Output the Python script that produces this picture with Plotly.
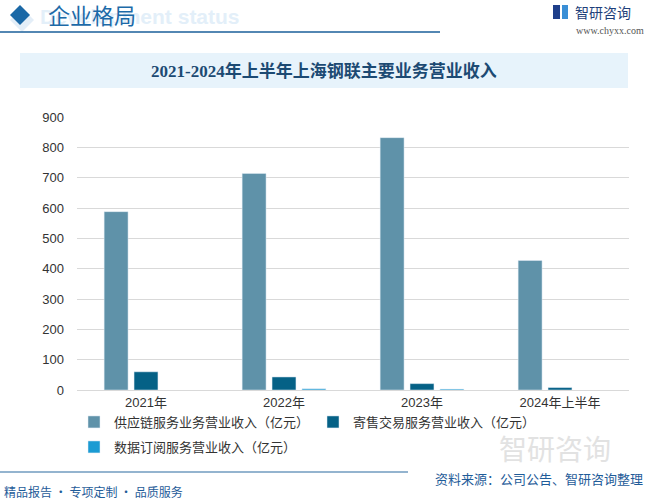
import plotly.graph_objects as go

categories = ["2021年", "2022年", "2023年", "2024年上半年"]
supply_chain = [588, 714, 832, 427]
consignment = [60, 43, 21, 8]
data_sub = [None, 4, 3, None]
series_names = ["供应链服务业务营业收入（亿元）", "寄售交易服务营业收入（亿元）", "数据订阅服务营业收入（亿元）"]
y_ticks = [0, 100, 200, 300, 400, 500, 600, 700, 800, 900]

W, H = 647, 499
L, R, T, B = 77, 18, 117, 109
PW, PH = W - L - R, H - T - B


def px(x):
    return (x - L) / PW


def py(y):
    return (H - B - y) / PH


CJK = "Noto Sans CJK SC"
fig = go.Figure()
fig.add_bar(x=categories, y=supply_chain, name=series_names[0], marker_color="#5f92a9", legend="legend")
fig.add_bar(x=categories, y=consignment, name=series_names[1], marker_color="#056186", legend="legend")
fig.add_bar(x=categories, y=data_sub, name=series_names[2], marker_color="#1b9bd3", legend="legend2")

shapes = []
annotations = []

# title box
shapes.append(dict(type="rect", xref="paper", yref="paper", x0=px(20), x1=px(628), y0=py(88), y1=py(53),
                   fillcolor="#e7f3fb", line_width=0, layer="below"))
annotations.append(dict(text="<b>2021-2024年上半年上海钢联主要业务营业收入</b>", xref="paper", yref="paper",
                        x=px(324), y=py(71), showarrow=False, xanchor="center", yanchor="middle",
                        font=dict(family="Liberation Serif, " + CJK, size=17, color="#1c4a73")))

# header
shapes.append(dict(type="path", xref="paper", yref="paper",
                   path="M %f,%f L %f,%f L %f,%f L %f,%f Z" % (px(22), py(8), px(34), py(20), px(22), py(32), px(10), py(20)),
                   fillcolor="#e3eef8", line_width=0))
shapes.append(dict(type="path", xref="paper", yref="paper",
                   path="M %f,%f L %f,%f L %f,%f L %f,%f Z" % (px(20), py(5), px(30), py(15), px(20), py(25), px(10), py(15)),
                   fillcolor="#1a68a6", line_width=0))
annotations.append(dict(text="<b>Development status</b>", xref="paper", yref="paper", x=px(38), y=py(17),
                        showarrow=False, xanchor="left", yanchor="middle",
                        font=dict(family="Liberation Sans", size=21, color="#e3eff9")))
annotations.append(dict(text="企业格局", xref="paper", yref="paper", x=px(46), y=py(14),
                        showarrow=False, xanchor="left", yanchor="middle",
                        font=dict(family=CJK, size=22, color="#1c6aa8")))
shapes.append(dict(type="line", xref="paper", yref="paper", x0=px(0), x1=px(440), y0=py(32), y1=py(32),
                   line=dict(color="#1a5f9a", width=1.5)))
# logo
shapes.append(dict(type="rect", xref="paper", yref="paper", x0=px(553), x1=px(560), y0=py(19), y1=py(5),
                   fillcolor="#1e3f8a", line_width=0))
shapes.append(dict(type="rect", xref="paper", yref="paper", x0=px(562), x1=px(568), y0=py(19), y1=py(5),
                   fillcolor="#3a8fd6", line_width=0))
annotations.append(dict(text="智研咨询", xref="paper", yref="paper", x=px(573), y=py(12),
                        showarrow=False, xanchor="left", yanchor="middle",
                        font=dict(family=CJK, size=14, color="#1e3f7a")))
annotations.append(dict(text="www.chyxx.com", xref="paper", yref="paper", x=px(574), y=py(30),
                        showarrow=False, xanchor="left", yanchor="middle",
                        font=dict(family="Liberation Serif", size=10, color="#555555")))

# footer
annotations.append(dict(text="智研咨询", xref="paper", yref="paper", x=px(555), y=py(448),
                        showarrow=False, xanchor="center", yanchor="middle",
                        font=dict(family=CJK, size=28, color="#e2e2e2")))
shapes.append(dict(type="line", xref="paper", yref="paper", x0=px(0), x1=px(408), y0=py(472), y1=py(472),
                   line=dict(color="#2a6aa0", width=1.2)))
annotations.append(dict(text="资料来源：公司公告、智研咨询整理", xref="paper", yref="paper", x=px(645), y=py(478),
                        showarrow=False, xanchor="right", yanchor="middle",
                        font=dict(family=CJK, size=13, color="#1f5c99")))
annotations.append(dict(text="精品报告 · 专项定制 · 品质服务", xref="paper", yref="paper", x=px(2), y=py(491),
                        showarrow=False, xanchor="left", yanchor="middle",
                        font=dict(family=CJK, size=12, color="#1f5c99")))

fig.update_layout(
    width=W, height=H,
    margin=dict(l=L, r=R, t=T, b=B, autoexpand=False),
    paper_bgcolor="white", plot_bgcolor="white",
    barmode="group", bargap=0.35, bargroupgap=0.2,
    shapes=shapes, annotations=annotations,
    font=dict(family="Liberation Sans, " + CJK, size=13, color="#333333"),
    legend=dict(orientation="h", x=px(74), y=py(422), xanchor="left", yanchor="middle",
                entrywidth=194, font=dict(family=CJK, size=13, color="#333333"), bgcolor="rgba(0,0,0,0)"),
    legend2=dict(orientation="h", x=px(74), y=py(447), xanchor="left", yanchor="middle",
                 font=dict(family=CJK, size=13, color="#333333"), bgcolor="rgba(0,0,0,0)"),
    xaxis=dict(showgrid=False, showline=True, linecolor="#d9d9d9", ticks="",
               tickfont=dict(family="Liberation Sans, " + CJK, size=13, color="#333333")),
    yaxis=dict(range=[0, 900], tickvals=y_ticks, showgrid=True, gridcolor="#d9d9d9", zeroline=False,
               ticks="", ticklabelstandoff=12,
               tickfont=dict(family="Liberation Sans", size=13, color="#333333")),
)

fig.write_html("out.html", config={"displayModeBar": False},
               post_script="document.body.style.margin='0px';document.body.style.overflow='hidden';")
